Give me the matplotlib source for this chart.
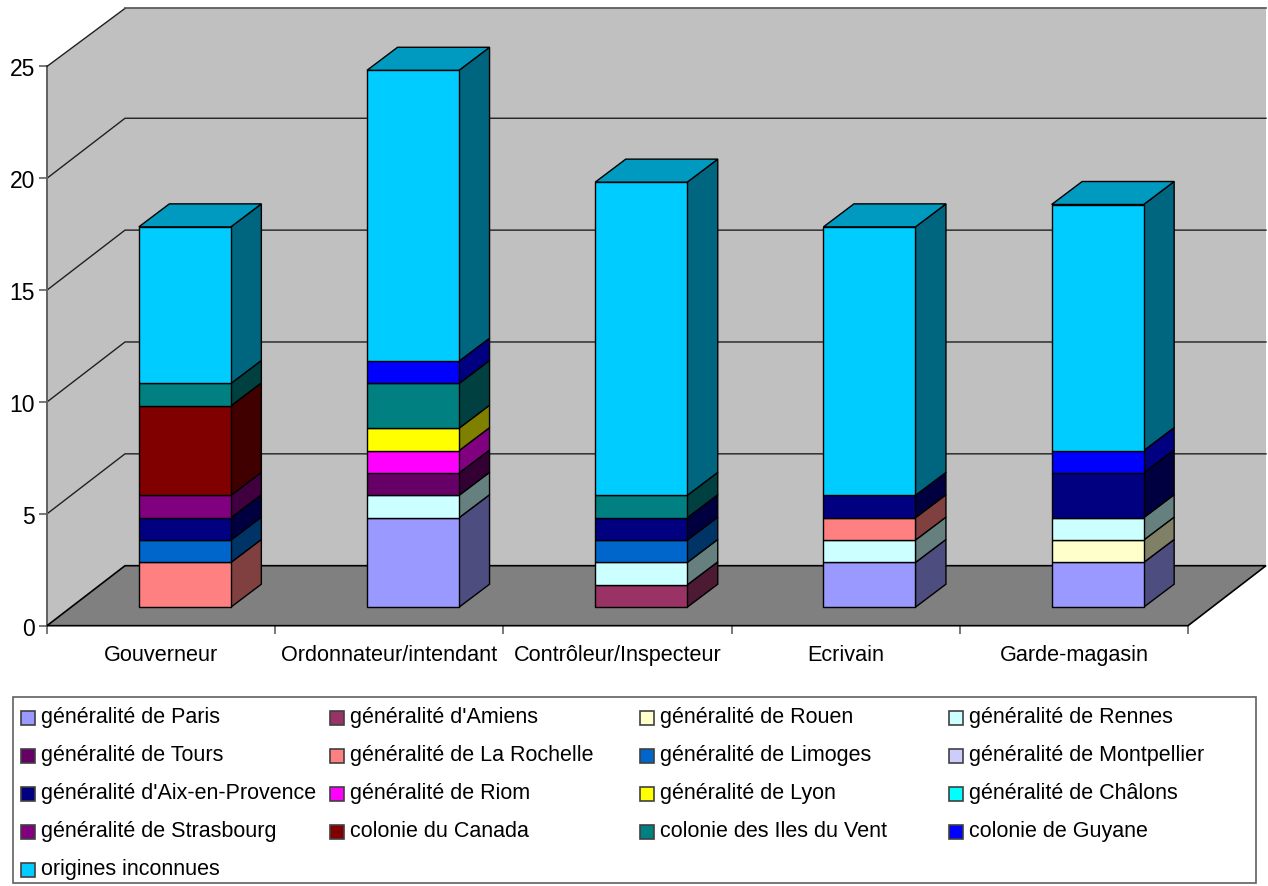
import numpy as np
import matplotlib
matplotlib.use('Agg')
import matplotlib.pyplot as plt
from matplotlib.patches import Rectangle

plt.rcParams['font.family'] = ['Liberation Sans', 'DejaVu Sans']

postes = ['Gouverneur', 'Ordonnateur/intendant', 'Contrôleur/Inspecteur', 'Ecrivain', 'Garde-magasin']

origines = ['généralité de Paris', "généralité d'Amiens", 'généralité de Rouen', 'généralité de Rennes',
            'généralité de Tours', 'généralité de La Rochelle', 'généralité de Limoges', 'généralité de Montpellier',
            "généralité d'Aix-en-Provence", 'généralité de Riom', 'généralité de Lyon', 'généralité de Châlons',
            'généralité de Strasbourg', 'colonie du Canada', 'colonie des Iles du Vent', 'colonie de Guyane',
            'origines inconnues']

couleurs = ['#9999FF', '#993366', '#FFFFCC', '#CCFFFF',
            '#660066', '#FF8080', '#0066CC', '#CCCCFF',
            '#000080', '#FF00FF', '#FFFF00', '#00FFFF',
            '#800080', '#800000', '#008080', '#0000FF',
            '#00CCFF']

paris = [0, 4, 0, 2, 2]
amiens = [0, 0, 1, 0, 0]
rouen = [0, 0, 0, 0, 1]
rennes = [0, 1, 1, 1, 1]
tours = [0, 1, 0, 0, 0]
la_rochelle = [2, 0, 0, 1, 0]
limoges = [1, 0, 1, 0, 0]
montpellier = [0, 0, 0, 0, 0]
aix = [1, 0, 1, 1, 2]
riom = [0, 1, 0, 0, 0]
lyon = [0, 1, 0, 0, 0]
chalons = [0, 0, 0, 0, 0]
strasbourg = [1, 0, 0, 0, 0]
canada = [4, 0, 0, 0, 0]
iles_vent = [1, 2, 1, 0, 0]
guyane = [0, 1, 0, 0, 1]
inconnues = [7, 13, 14, 12, 11]

series = np.array([paris, amiens, rouen, rennes, tours, la_rochelle, limoges, montpellier, aix,
                   riom, lyon, chalons, strasbourg, canada, iles_vent, guyane, inconnues], dtype=float)

W, H = 1268, 887
fig = plt.figure(figsize=(W / 100, H / 100), dpi=100)

# axes = front plane of the fake 3d box
left, right, bottom, top = 47, 1188, 626.7, 67.4
ax = fig.add_axes([left / W, 1 - bottom / H, (right - left) / W, (bottom - top) / H])
ax.set_xlim(0, 5)
ax.set_ylim(0, 25)
ax.patch.set_visible(False)
for s in ax.spines.values():
    s.set_visible(False)

px_x = 5 / (right - left)
px_y = 25 / (bottom - top)

# depth of the box and of the bars, in data units
box_dx, box_dy = 78 * px_x, 60 * px_y
bar_dx, bar_dy = 30.5 * px_x, 23 * px_y
off_x, off_y = (box_dx - bar_dx) / 2, (box_dy - bar_dy) / 2
bar_w = 92 * px_x
wall_top = 25 + 58 * px_y


def shade(c, f):
    return tuple(v * f for v in matplotlib.colors.to_rgb(c))


def face(xs, ys, color, z, lw=1.0, ec='#000000'):
    ax.fill(xs, ys, facecolor=color, edgecolor=ec, linewidth=lw, zorder=z, clip_on=False, joinstyle='miter')


# walls and floor, the outline is only drawn where the reference has one
ax.fill([0, box_dx, 5 + box_dx, 5 + box_dx, box_dx, 0], [0, box_dy, box_dy, wall_top, wall_top, 25],
        facecolor='#C0C0C0', edgecolor='none', zorder=1, clip_on=False)
ax.plot([0, 0], [0, 25], color='#606060', lw=1.4, zorder=1.6, clip_on=False)
ax.plot([0, box_dx], [25, wall_top], color='#202020', lw=1.0, zorder=1.6, clip_on=False)
ax.plot([box_dx, 5 + box_dx], [wall_top, wall_top], color='#505050', lw=1.2, zorder=1.6, clip_on=False)
face([0, 5, 5 + box_dx, box_dx], [0, 0, box_dy, box_dy], '#808080', 2, 1.2)

# grid on the wall
for v in range(5, 25, 5):
    ax.plot([0, box_dx, 5 + box_dx], [v, v + box_dy, v + box_dy], color='#202020', lw=1.0, zorder=1.5, clip_on=False)

# stacked boxes
for i in range(len(postes)):
    x0 = i + 0.5 - bar_w / 2 + off_x
    x1 = x0 + bar_w
    base = off_y
    z = 3
    for j in range(len(origines)):
        val = series[j, i]
        if val == 0:
            continue
        y0, y1 = base, base + val
        face([x1, x1 + bar_dx, x1 + bar_dx, x1], [y0, y0 + bar_dy, y1 + bar_dy, y1], shade(couleurs[j], 0.5), z)
        face([x0, x1, x1, x0], [y0, y0, y1, y1], couleurs[j], z + 0.1)
        base = y1
        z += 0.2
        last = j
    face([x0, x1, x1 + bar_dx, x0 + bar_dx], [base, base, base + bar_dy, base + bar_dy], shade(couleurs[last], 0.75), z)

# axes ticks and labels
ax.set_yticks(range(0, 30, 5))
ax.tick_params(axis='y', length=5.8, width=1.2, color='#606060', labelsize=16.5, pad=3)
ax.set_xticks(range(0, 6))
ax.set_xticklabels([])
ax.tick_params(axis='x', length=5.8, width=1.2, color='#606060')
ax.set_xticks(np.arange(0.5, 5), minor=True)
ax.set_xticklabels(postes, minor=True, fontsize=15.6)
ax.tick_params(axis='x', which='minor', length=0, pad=13)

# legend box, drawn by hand to keep the row by row order
fig.add_artist(Rectangle((13 / W, 1 - 884 / H), 1243 / W, 186 / H, transform=fig.transFigure,
                         facecolor='white', edgecolor='#606060', linewidth=1.2))
col_x = [21, 330, 640, 949]
row_y = [717, 755, 793, 831, 869]
for k in range(len(origines)):
    r, c = divmod(k, 4)
    fig.add_artist(Rectangle((col_x[c] / W, 1 - (row_y[r] + 9) / H), 14 / W, 14 / H, transform=fig.transFigure,
                             facecolor=couleurs[k], edgecolor='#404040', linewidth=1.2))
    fig.text((col_x[c] + 20) / W, 1 - (row_y[r] + 1) / H, origines[k], fontsize=15.5, va='center', ha='left')

fig.savefig('out.png', dpi=100)
